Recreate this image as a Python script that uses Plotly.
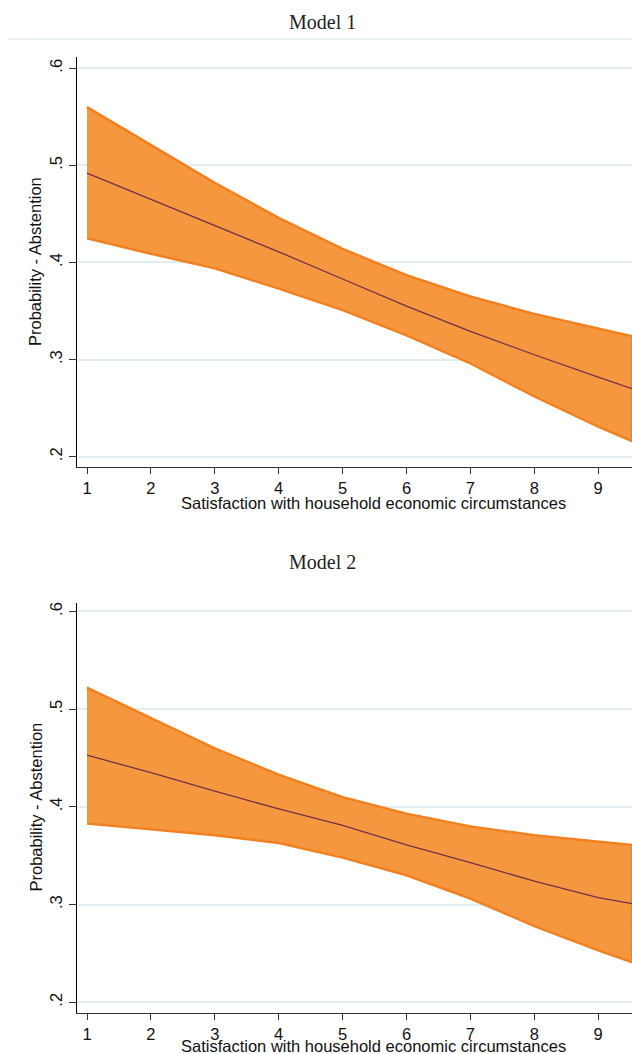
import plotly.graph_objects as go

W, H = 632, 1054

# ---- data ----
x_vals = [1, 2, 3, 4, 5, 6, 7, 8, 9, 9.53]
m1_upper = [0.560, 0.521, 0.482, 0.446, 0.414, 0.387, 0.365, 0.347, 0.332, 0.324]
m1_mean = [0.492, 0.465, 0.438, 0.411, 0.383, 0.355, 0.329, 0.305, 0.282, 0.270]
m1_lower = [0.425, 0.409, 0.394, 0.373, 0.351, 0.325, 0.296, 0.262, 0.231, 0.216]

m2_upper = [0.522, 0.491, 0.460, 0.433, 0.410, 0.393, 0.380, 0.371, 0.364, 0.361]
m2_mean = [0.453, 0.435, 0.416, 0.398, 0.381, 0.361, 0.343, 0.324, 0.307, 0.301]
m2_lower = [0.383, 0.377, 0.371, 0.363, 0.348, 0.330, 0.306, 0.278, 0.253, 0.241]

x_ticks = [1, 2, 3, 4, 5, 6, 7, 8, 9]
y_ticks = [0.2, 0.3, 0.4, 0.5, 0.6]
y_tick_text = [".2", ".3", ".4", ".5", ".6"]
titles = ["Model 1", "Model 2"]
x_title = "Satisfaction with household economic circumstances"
y_title = "Probability - Abstention"

# ---- style ----
FILL = "#f5973f"
EDGE = "#f3801f"
MEAN = "#73304a"
GRID = "#e2edef"
SANS = "Liberation Sans, Arial, sans-serif"
SERIF = "Liberation Serif, Times New Roman, serif"
FS = 16.5


def py(p):
    """pixel y (from top) -> paper y"""
    return 1 - p / H


def px(p):
    return p / W


fig = go.Figure()

panels = [
    (m1_upper, m1_mean, m1_lower, "x", "y"),
    (m2_upper, m2_mean, m2_lower, "x2", "y2"),
]
for up, mn, lo, xa, ya in panels:
    fig.add_trace(go.Scatter(
        x=x_vals + x_vals[::-1], y=up + lo[::-1],
        fill="toself", fillcolor=FILL, mode="lines",
        line=dict(color=EDGE, width=2.4),
        xaxis=xa, yaxis=ya, showlegend=False, hoverinfo="skip"))
    fig.add_trace(go.Scatter(
        x=x_vals, y=mn, mode="lines",
        line=dict(color=MEAN, width=1.3),
        xaxis=xa, yaxis=ya, showlegend=False))

x_range = [0.8435, 9.529]
y_range1 = [0.1891, 0.6113]
y_range2 = [0.1893, 0.6090]

xdom = [px(77), 1.0]
ydom1 = [py(467.3), py(57.3)]
ydom2 = [py(1012.7), py(602.7)]

xcommon = dict(range=x_range, domain=xdom, showline=True, linecolor="#333333",
               linewidth=1.2, ticks="outside", ticklen=6, tickcolor="#333333",
               tickvals=x_ticks, showgrid=False, zeroline=False,
               tickfont=dict(family=SANS, size=FS, color="#111111"))
ycommon = dict(showline=True, linecolor="#000000", linewidth=1.2,
               ticks="outside", ticklen=7, tickcolor="#333333",
               tickvals=y_ticks, ticktext=y_tick_text, tickangle=-90,
               showgrid=True, gridcolor=GRID, gridwidth=1.5, zeroline=False,
               tickfont=dict(family=SANS, size=FS, color="#111111"))

fig.update_layout(
    width=W, height=H, margin=dict(l=0, r=0, t=0, b=0),
    paper_bgcolor="white", plot_bgcolor="white",
    xaxis=dict(**xcommon, anchor="y"),
    xaxis2=dict(**xcommon, anchor="y2"),
    yaxis=dict(**ycommon, range=y_range1, domain=ydom1, anchor="x"),
    yaxis2=dict(**ycommon, range=y_range2, domain=ydom2, anchor="x2"),
    showlegend=False,
)

annotations = []
for i, (t_y, yt_y, xt_y) in enumerate([(22, 262, 503), (562, 807.5, 1045.5)]):
    annotations.append(dict(text=titles[i], x=px(322), y=py(t_y), xref="paper", yref="paper",
                            showarrow=False, xanchor="center", yanchor="middle",
                            font=dict(family=SERIF, size=20, color="#222222")))
    annotations.append(dict(text=y_title, x=px(35), y=py(yt_y), xref="paper", yref="paper",
                            showarrow=False, xanchor="center", yanchor="middle", textangle=-90,
                            font=dict(family=SANS, size=FS, color="#111111")))
    annotations.append(dict(text=x_title, x=px(373), y=py(xt_y), xref="paper", yref="paper",
                            showarrow=False, xanchor="center", yanchor="middle",
                            font=dict(family=SANS, size=FS, color="#111111")))
fig.update_layout(annotations=annotations)

fig.add_shape(type="line", xref="paper", yref="paper", x0=px(8), x1=1.0,
              y0=py(39), y1=py(39), line=dict(color="#dde8ea", width=1))

fig.write_html(
    "out.html",
    config={"displayModeBar": False},
    post_script="document.body.style.margin='0';document.body.style.overflow='hidden';",
)
